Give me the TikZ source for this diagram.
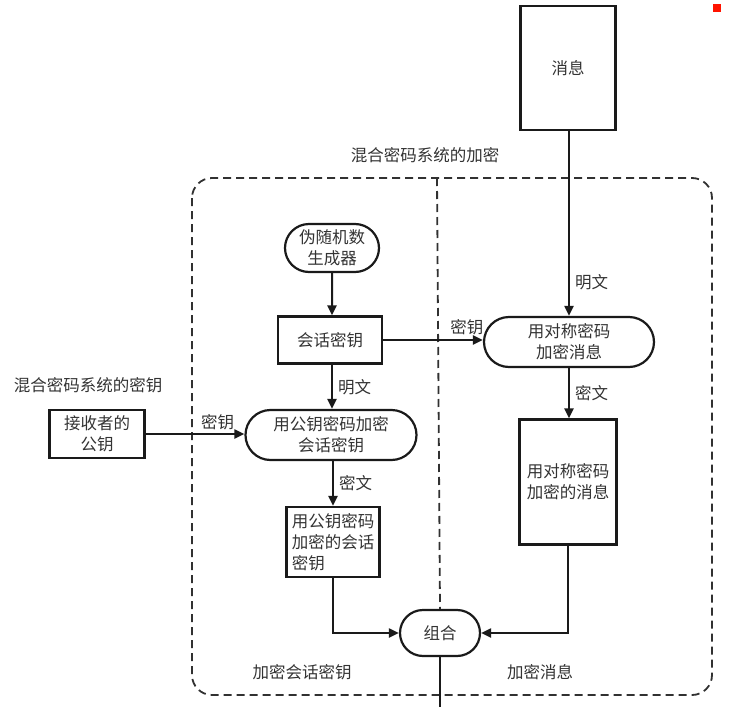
\documentclass[tikz,border=0pt]{standalone}
\usepackage{fontspec}
\setmainfont{Noto Sans CJK SC}
\usetikzlibrary{arrows.meta, positioning, shapes.misc}
\definecolor{inkline}{HTML}{1A1A1A}
\definecolor{inktext}{HTML}{333333}
\tikzset{
  box/.style   = {draw=inkline, line width=2.2pt, rectangle, align=center,
                  text=inktext, inner sep=0pt},
  proc/.style  = {draw=inkline, line width=2.2pt, rounded rectangle, align=center,
                  text=inktext, inner sep=0pt},
  arr/.style   = {-{Triangle[length=10pt, width=9pt]}, line width=2pt, draw=inkline},
  wire/.style  = {line width=2pt, draw=inkline},
  lbl/.style   = {text=inktext, inner sep=1pt},
  area/.style  = {draw=inkline!90, line width=1.8pt, dash pattern=on 8pt off 5pt}
}

\begin{document}
\begin{tikzpicture}[x=1pt, y=-1pt, font=\fontsize{16.5}{21}\selectfont]
  \useasboundingbox (0,0) rectangle (729,707);
  \fill[red!85!orange] (713,4) rectangle (721,12);

  % -- dashed frame ---------------------------------------------------------
  \draw[area, rounded corners=20pt] (192,178) rectangle (712,695);
  \node[lbl] (title) at (425,155) {混合密码系统的加密};
  \node[lbl] (partA) at (302,672) {加密会话密钥};
  \node[lbl] (partB) at (540,672) {加密消息};

  % -- message side ---------------------------------------------------------
  \node[box, minimum width=95pt, minimum height=124pt]  (msg)    at (568,68)  {消息};
  \node[proc, minimum width=170pt, minimum height=50pt] (symEnc) at (569,342) {用对称密码\\加密消息};
  \node[box, minimum width=97pt, minimum height=125pt]  (symOut) at (568,482) {用对称密码\\加密的消息};

  % -- session key side -----------------------------------------------------
  \node[proc, minimum width=94pt, minimum height=48pt]  (prng)   at (332,248) {伪随机数\\生成器};
  \node[box, minimum width=104pt, minimum height=47pt]  (sKey)   at (330,340) {会话密钥};
  \node[proc, minimum width=171pt, minimum height=50pt] (pubEnc) at (331,435) {用公钥密码加密\\会话密钥};
  \node[box, minimum width=93pt, minimum height=70pt, align=left] (pubOut) at (333,542)
        {用公钥密码\\加密的会话\\密钥};

  % -- receiver key ---------------------------------------------------------
  \node[lbl] (keyTitle) at (88,385) {混合密码系统的密钥};
  \node[box, minimum width=95pt, minimum height=48pt]   (rcvKey) at (97,434)  {接收者的\\公钥};

  % -- combine --------------------------------------------------------------
  \node[proc, minimum width=80pt, minimum height=46pt]  (join)   at (440,633) {组合};
  \coordinate (outEnd) at (440,707);

  % divider between the two halves
  \draw[area] (437,178) -- (join.north);

  % -- connections ----------------------------------------------------------
  \draw[arr] (msg.south -| symEnc.north) -- node[lbl, right=4pt, pos=0.82]{明文} (symEnc.north);
  \draw[arr] (symEnc.south) -- node[lbl, right=4pt]{密文} (symEnc.south |- symOut.north);
  \draw[arr] (prng) -- (prng |- sKey.north);
  \draw[arr] (sKey.east) -- node[lbl, above=3pt, pos=0.84]{密钥} (symEnc.west |- sKey.east);
  \draw[arr] (sKey.south -| prng.south) -- node[lbl, right=4pt]{明文} (pubEnc.north -| prng.south);
  \draw[arr] (rcvKey.east) -- node[lbl, above=2pt, pos=0.73]{密钥} (pubEnc.west |- rcvKey.east);
  \draw[arr] (pubEnc.south -| pubOut.north) -- node[lbl, right=4pt]{密文} (pubOut.north);
  \draw[arr] (pubOut.south) |- (join.west);
  \draw[arr] (symOut.south) |- (join.east);
  \draw[wire] (join.south) -- (outEnd);

\end{tikzpicture}
\end{document}
